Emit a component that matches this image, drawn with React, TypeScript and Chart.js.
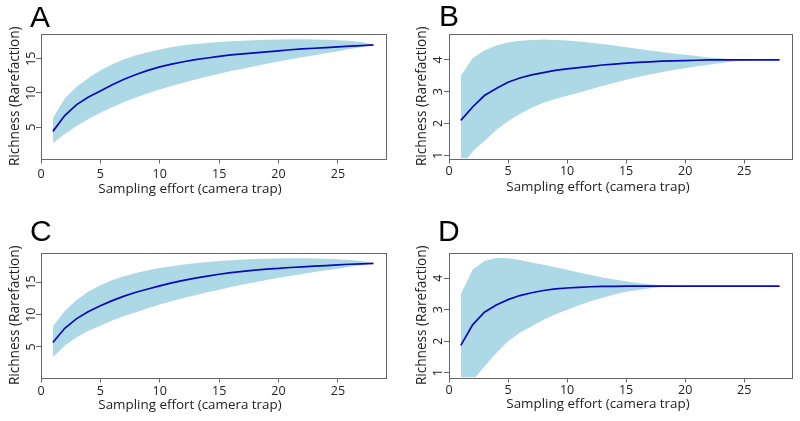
import React, { useEffect, useRef } from "react";
import { Chart, registerables } from "chart.js";

Chart.register(...registerables);

// ---------- data ----------
const effort = [1, 2, 3, 4, 5, 6, 7, 8, 9, 10, 11, 12, 13, 14, 15, 16, 17, 18, 19, 20, 21, 22, 23, 24, 25, 26, 27, 28];

const aMean = [4.4, 6.7, 8.3, 9.4, 10.3, 11.2, 12.0, 12.7, 13.3, 13.8, 14.2, 14.55, 14.85, 15.1, 15.35, 15.55, 15.7, 15.85, 16.0, 16.15, 16.3, 16.42, 16.52, 16.62, 16.72, 16.82, 16.9, 17.0];
const aUpper = [6.35, 9.2, 10.9, 12.2, 13.3, 14.2, 14.9, 15.5, 15.95, 16.35, 16.7, 16.95, 17.15, 17.3, 17.45, 17.55, 17.63, 17.7, 17.75, 17.8, 17.82, 17.82, 17.8, 17.75, 17.68, 17.6, 17.45, 17.0];
const aLower = [2.65, 4.0, 5.2, 6.2, 7.1, 7.9, 8.7, 9.35, 9.95, 10.5, 11.0, 11.5, 11.95, 12.4, 12.8, 13.2, 13.55, 13.9, 14.25, 14.6, 14.9, 15.2, 15.5, 15.8, 16.1, 16.4, 16.7, 17.0];

const bMean = [2.1, 2.52, 2.88, 3.1, 3.3, 3.43, 3.53, 3.6, 3.67, 3.72, 3.76, 3.8, 3.84, 3.87, 3.9, 3.92, 3.94, 3.96, 3.97, 3.98, 3.99, 4.0, 4.0, 4.0, 4.0, 4.0, 4.0, 4.0];
const bUpper = [3.5, 4.05, 4.3, 4.45, 4.55, 4.6, 4.63, 4.64, 4.63, 4.61, 4.58, 4.54, 4.5, 4.45, 4.4, 4.35, 4.3, 4.25, 4.2, 4.16, 4.12, 4.08, 4.05, 4.02, 4.0, 4.0, 4.0, 4.0];
const bLower = [0.6, 1.12, 1.45, 1.8, 2.07, 2.3, 2.5, 2.65, 2.77, 2.87, 2.97, 3.08, 3.18, 3.28, 3.38, 3.46, 3.54, 3.61, 3.68, 3.74, 3.8, 3.85, 3.9, 3.95, 3.98, 4.0, 4.0, 4.0];

const cMean = [5.7, 7.9, 9.4, 10.5, 11.4, 12.2, 12.9, 13.5, 14.0, 14.5, 14.95, 15.35, 15.7, 16.0, 16.3, 16.55, 16.75, 16.95, 17.1, 17.2, 17.35, 17.45, 17.55, 17.65, 17.75, 17.85, 17.92, 18.0];
const cUpper = [8.2, 10.6, 12.3, 13.6, 14.6, 15.4, 16.0, 16.5, 16.9, 17.25, 17.55, 17.8, 18.0, 18.2, 18.35, 18.48, 18.58, 18.66, 18.72, 18.76, 18.78, 18.78, 18.75, 18.7, 18.62, 18.5, 18.35, 18.0];
const cLower = [3.4, 5.2, 6.5, 7.5, 8.3, 9.1, 9.8, 10.4, 11.0, 11.6, 12.1, 12.6, 13.05, 13.5, 13.9, 14.3, 14.7, 15.05, 15.4, 15.75, 16.05, 16.35, 16.65, 16.9, 17.15, 17.45, 17.7, 18.0];

const dMean = [1.87, 2.52, 2.92, 3.15, 3.32, 3.45, 3.54, 3.61, 3.66, 3.69, 3.71, 3.73, 3.74, 3.74, 3.75, 3.75, 3.75, 3.75, 3.75, 3.75, 3.75, 3.75, 3.75, 3.75, 3.75, 3.75, 3.75, 3.75];
const dUpper = [3.5, 4.27, 4.55, 4.64, 4.63, 4.58, 4.5, 4.43, 4.35, 4.27, 4.18, 4.1, 4.02, 3.96, 3.9, 3.85, 3.81, 3.78, 3.76, 3.75, 3.75, 3.75, 3.75, 3.75, 3.75, 3.75, 3.75, 3.75];
const dLower = [0.3, 0.75, 1.2, 1.63, 2.0, 2.27, 2.48, 2.68, 2.85, 3.0, 3.14, 3.27, 3.38, 3.48, 3.57, 3.63, 3.68, 3.72, 3.74, 3.75, 3.75, 3.75, 3.75, 3.75, 3.75, 3.75, 3.75, 3.75];

const xTickValues = [0, 5, 10, 15, 20, 25];
const yTicksLarge = [5, 10, 15];
const yTicksSmall = [1, 2, 3, 4];

const X_TITLE = "Sampling effort (camera trap)";
const Y_TITLE = "Richness (Rarefaction)";

// ---------- style ----------
const FONT = "'Open Sans', 'Noto Sans', sans-serif";
const LETTER_FONT = "'Liberation Sans', Arial, sans-serif";
const TEXT = "#222222";
const AXIS = "#666666";
const BAND = "#ADD8E6";
const LINE = "#0A0AB8";

type Panel = {
  letter: string;
  mean: number[];
  upper: number[];
  lower: number[];
  yMin: number;
  yMax: number;
  yTicks: number[];
  left: number;
  top: number;
  w: number;
  h: number;
  padRight: number;
  yScaleW: number;
  xScaleH: number;
  letterX: number;
  letterPadTop: number;
  letterPadBottom: number;
  xTitlePadBottom: number;
  xTitleCenter: number;
  xTickPad: number;
  yTickPad: number;
  yTitlePad: number;
};

const panels: Panel[] = [
  {
    letter: "A", mean: aMean, upper: aUpper, lower: aLower, yMin: 0.44, yMax: 18.6, yTicks: yTicksLarge,
    left: 0, top: 0, w: 400, h: 210,
    padRight: 14, yScaleW: 41, xScaleH: 22.9, letterX: 30,
    letterPadTop: 3.9, letterPadBottom: 0.1, xTitlePadBottom: 12.5, xTitleCenter: 190,
    xTickPad: 3.5, yTickPad: -2.45, yTitlePad: 6.5,
  },
  {
    letter: "B", mean: bMean, upper: bUpper, lower: bLower, yMin: 0.9, yMax: 4.815, yTicks: yTicksSmall,
    left: 400, top: 0, w: 400, h: 210,
    padRight: 8, yScaleW: 49, xScaleH: 20.2, letterX: 39,
    letterPadTop: 2.3, letterPadBottom: 1.7, xTitlePadBottom: 15.2, xTitleCenter: 198,
    xTickPad: 0.7, yTickPad: 2.4, yTitlePad: 13.9,
  },
  {
    letter: "C", mean: cMean, upper: cUpper, lower: cLower, yMin: 0.25, yMax: 19.6, yTicks: yTicksLarge,
    left: 0, top: 210, w: 400, h: 211,
    padRight: 14, yScaleW: 41, xScaleH: 19.2, letterX: 30,
    letterPadTop: 7.9, letterPadBottom: 5.1, xTitlePadBottom: 8.2, xTitleCenter: 190,
    xTickPad: 1.5, yTickPad: -2.35, yTitlePad: 6.5,
  },
  {
    letter: "D", mean: dMean, upper: dUpper, lower: dLower, yMin: 0.85, yMax: 4.8, yTicks: yTicksSmall,
    left: 400, top: 210, w: 400, h: 211,
    padRight: 8, yScaleW: 49, xScaleH: 18.7, letterX: 38,
    letterPadTop: 7.9, letterPadBottom: 5.1, xTitlePadBottom: 8.7, xTitleCenter: 198,
    xTickPad: 0.5, yTickPad: 2.4, yTitlePad: 14.2,
  },
];

const boxPlugin = {
  id: "plotBox",
  afterDraw(chart: any) {
    const { ctx, chartArea } = chart;
    ctx.save();
    ctx.strokeStyle = AXIS;
    ctx.lineWidth = 1;
    ctx.strokeRect(
      Math.round(chartArea.left) + 0.5,
      Math.round(chartArea.top) + 0.5,
      Math.round(chartArea.right) - Math.round(chartArea.left),
      Math.round(chartArea.bottom) - Math.round(chartArea.top)
    );
    ctx.restore();
  },
};

function makeTextShift(p: Panel) {
  return {
    id: "textShift",
    afterLayout(chart: any) {
      for (const box of chart.boxes) {
        const txt = box && box.options ? box.options.text : undefined;
        if (txt === X_TITLE) {
          box.left = p.xTitleCenter - 150;
          box.right = p.xTitleCenter + 150;
        } else if (txt === p.letter) {
          box.left = p.letterX;
          box.right = p.letterX + 100;
        }
      }
    },
  };
}

function PanelChart({ p }: { p: Panel }) {
  const ref = useRef<HTMLCanvasElement>(null);
  useEffect(() => {
    const toPts = (ys: number[]) => effort.map((x, i) => ({ x, y: ys[i] }));
    const tickFont = { family: FONT, size: 12.5 };
    const chart = new Chart(ref.current as HTMLCanvasElement, {
      type: "line",
      data: {
        datasets: [
          { label: "Rarefaction", data: toPts(p.mean), borderColor: LINE, borderWidth: 1.7, pointRadius: 0, fill: false, tension: 0 },
          { label: "Upper", data: toPts(p.upper), borderColor: "rgba(0,0,0,0)", borderWidth: 0, pointRadius: 0, fill: "+1", backgroundColor: BAND, tension: 0 },
          { label: "Lower", data: toPts(p.lower), borderColor: "rgba(0,0,0,0)", borderWidth: 0, pointRadius: 0, fill: false, tension: 0 },
        ],
      },
      options: {
        animation: false,
        responsive: false,
        events: [],
        layout: { padding: { left: 0, right: p.padRight, top: 0, bottom: 0 } },
        plugins: {
          legend: { display: false },
          tooltip: { enabled: false },
          subtitle: {
            display: true, text: p.letter, align: "start", position: "top", color: "#000000",
            font: { family: LETTER_FONT, size: 30, lineHeight: 1, weight: "normal" },
            padding: { top: p.letterPadTop, bottom: p.letterPadBottom },
          },
          title: {
            display: true, text: X_TITLE, position: "bottom", align: "center", color: TEXT,
            font: { family: FONT, size: 13.4, lineHeight: 1.2, weight: "normal" },
            padding: { top: 0, bottom: p.xTitlePadBottom },
          },
        },
        scales: {
          x: {
            type: "linear", min: 0, max: 29.05,
            afterFit: (s: any) => { s.height = p.xScaleH; },
            afterBuildTicks: (s: any) => { s.ticks = xTickValues.map((v) => ({ value: v })); },
            grid: { drawOnChartArea: false, drawTicks: true, tickLength: 5, color: AXIS },
            border: { display: false },
            ticks: { font: tickFont, color: TEXT, padding: p.xTickPad, autoSkip: false, maxRotation: 0, minRotation: 0 },
          },
          y: {
            type: "linear", min: p.yMin, max: p.yMax,
            afterFit: (s: any) => { s.width = p.yScaleW; },
            afterBuildTicks: (s: any) => { s.ticks = p.yTicks.map((v) => ({ value: v })); },
            grid: { drawOnChartArea: false, drawTicks: true, tickLength: 5, color: AXIS },
            border: { display: false },
            ticks: { font: tickFont, color: TEXT, padding: p.yTickPad, autoSkip: false, minRotation: 90, maxRotation: 90, crossAlign: "center" },
            title: {
              display: true, text: Y_TITLE, color: TEXT,
              font: { family: FONT, size: 13.6, lineHeight: 1.2 },
              padding: { top: p.yTitlePad, bottom: 0 },
            },
          },
        },
      } as any,
      plugins: [boxPlugin, makeTextShift(p)],
    });
    return () => chart.destroy();
  }, [p]);
  return (
    <canvas
      ref={ref}
      width={p.w}
      height={p.h}
      style={{ position: "absolute", left: p.left, top: p.top, width: p.w, height: p.h }}
    />
  );
}

export default function App() {
  return (
    <div style={{ position: "absolute", left: 0, top: 0, width: 800, height: 421, background: "#ffffff", overflow: "hidden" }}>
      {panels.map((p) => (
        <PanelChart key={p.letter} p={p} />
      ))}
    </div>
  );
}
